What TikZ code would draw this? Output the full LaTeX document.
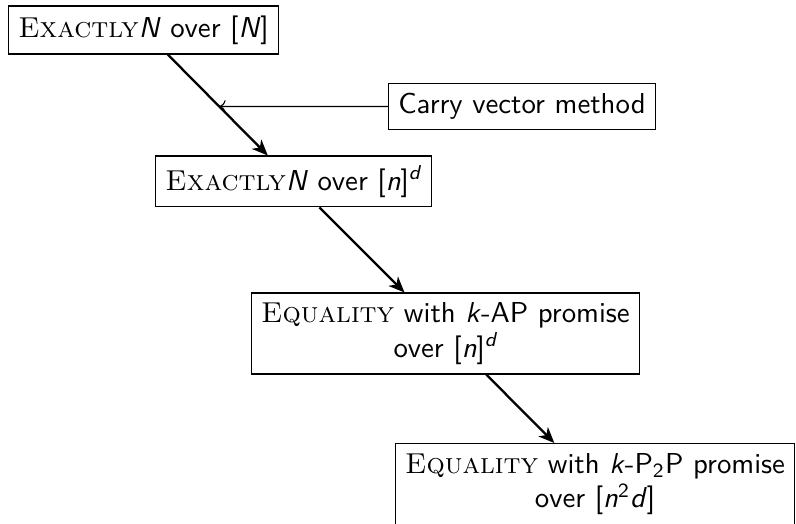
\documentclass[tikz,border=0pt]{standalone}
\usepackage{fontspec}
\usetikzlibrary{arrows.meta}
% italic sans letters standing for variables
\newcommand{\vsf}[1]{\textsf{\itshape #1}}
% problem names in small capitals
\newcommand{\scn}[1]{{\rmfamily\scshape #1}}

\begin{document}
\begin{tikzpicture}[x=0.3472pt,y=-0.3472pt,
  box/.style={draw, font=\sffamily, align=center},
  flow/.style={-{Stealth[length=5.5pt,width=4.6pt,inset=1.6pt]}, thick},
  side/.style={-{To[length=2.2pt,width=4.4pt]}}]
  \useasboundingbox (0,0) rectangle (796,524);
  \clip (0,0) rectangle (796,524);

  \node[box] (n1) at (143.5,30) {\scn{Exactly}\vsf{N} over [\vsf{N}]};
  \node[box] (cv) at (522,106.5) {Carry vector method};
  \node[box] (n2) at (293.5,181.5) {\scn{Exactly}\vsf{N} over [\vsf{n}]\textsuperscript{\itshape d}};
  \node[box] (n3) at (445.5,333.5) {\scn{Equality} with \vsf{k}-AP promise\\ over [\vsf{n}]\textsuperscript{\itshape d}};
  \node[box, anchor=north west] (n4) at (395,443) {\scn{Equality} with \vsf{k}-P\textsubscript{2}P promise\\ over [\vsf{n}\textsuperscript{2}\vsf{d}]};

  \draw[flow] (n1) -- (n2);
  \draw[flow] (n2) -- (n3);
  \draw[flow] (n3) -- (n4);

  \path (cv.west) ++(-300,0) coordinate (aux);
  \coordinate (hit) at (intersection of n1.center--n2.center and cv.west--aux);
  \draw[side] (cv.west) -- (hit);
\end{tikzpicture}
\end{document}
